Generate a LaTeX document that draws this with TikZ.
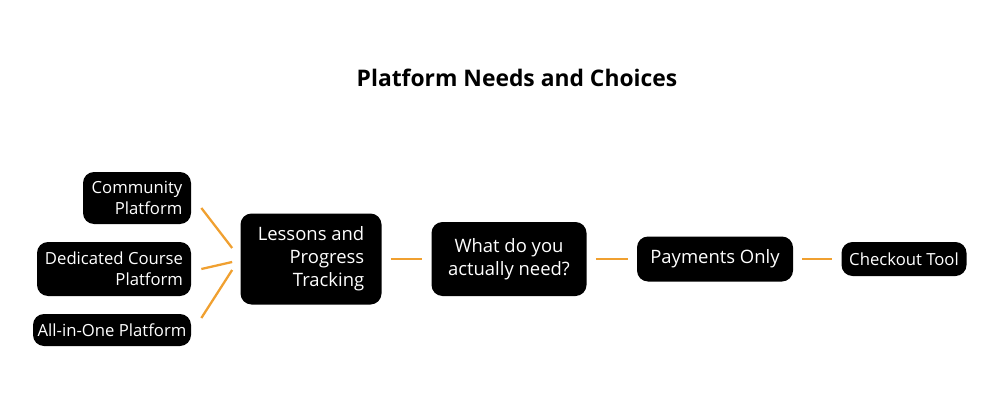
\documentclass[tikz,border=0pt]{standalone}
\usepackage{fontspec}
\setmainfont{Open Sans}
\usetikzlibrary{calc,positioning}
\definecolor{linkorange}{HTML}{F0A030}
\tikzset{
	box/.style={draw=none,fill=black,text=white,rounded corners=0.22cm,inner sep=0pt,font=\fontsize{9.5}{12}\selectfont},
	link/.style={draw=linkorange,line width=1.3pt},
}
\begin{document}
\begin{tikzpicture}
\useasboundingbox (0,0) rectangle (20,8.22);
\node (title) at (10.34,6.66) [font=\bfseries\fontsize{13}{15}\selectfont] {Platform Needs and Choices};
\node (comm) at (2.74,4.26) [box,minimum width=2.16cm,minimum height=1.04cm,align=right] {Community\\Platform};
\node (ded) at (2.28,2.84) [box,minimum width=3.08cm,minimum height=1.08cm,align=right] {Dedicated Course\\Platform};
\node (allone) at (2.24,1.62) [box,minimum width=3.16cm,minimum height=0.64cm] {All-in-One Platform};
\node (lessons) at (6.22,3.04) [box,minimum width=2.82cm,minimum height=1.82cm,align=right,font=\fontsize{10.5}{13}\selectfont] {Lessons and\\Progress\\Tracking};
\node (need) at (10.18,3.04) [box,minimum width=3.1cm,minimum height=1.48cm,align=center,font=\fontsize{10.5}{13}\selectfont] {What do you\\actually need?};
\node (pay) at (14.3,3.04) [box,minimum width=3.12cm,minimum height=0.9cm,font=\fontsize{10.5}{13}\selectfont] {Payments Only};
\node (checkout) at (18.08,3.04) [box,minimum width=2.5cm,minimum height=0.68cm] {Checkout Tool};
\draw[link] ($(comm.east)+(0.2,-0.2)$) -- ($(lessons.west)+(-0.16,0.22)$);
\draw[link] ($(ded.east)+(0.2,0)$) -- ($(lessons.west)+(-0.16,-0.06)$);
\draw[link] ($(allone.east)+(0.2,0.24)$) -- ($(lessons.west)+(-0.16,-0.22)$);
\draw[link] (lessons) -- (need) [shorten <=0.18cm,shorten >=0.18cm];
\draw[link,shorten <=0.18cm,shorten >=0.18cm] (lessons.east) -- (need.west);
\draw[link,shorten <=0.18cm,shorten >=0.18cm] (need.east) -- (pay.west);
\draw[link,shorten <=0.18cm,shorten >=0.18cm] (pay.east) -- (checkout.west);
\end{tikzpicture}
\end{document}
